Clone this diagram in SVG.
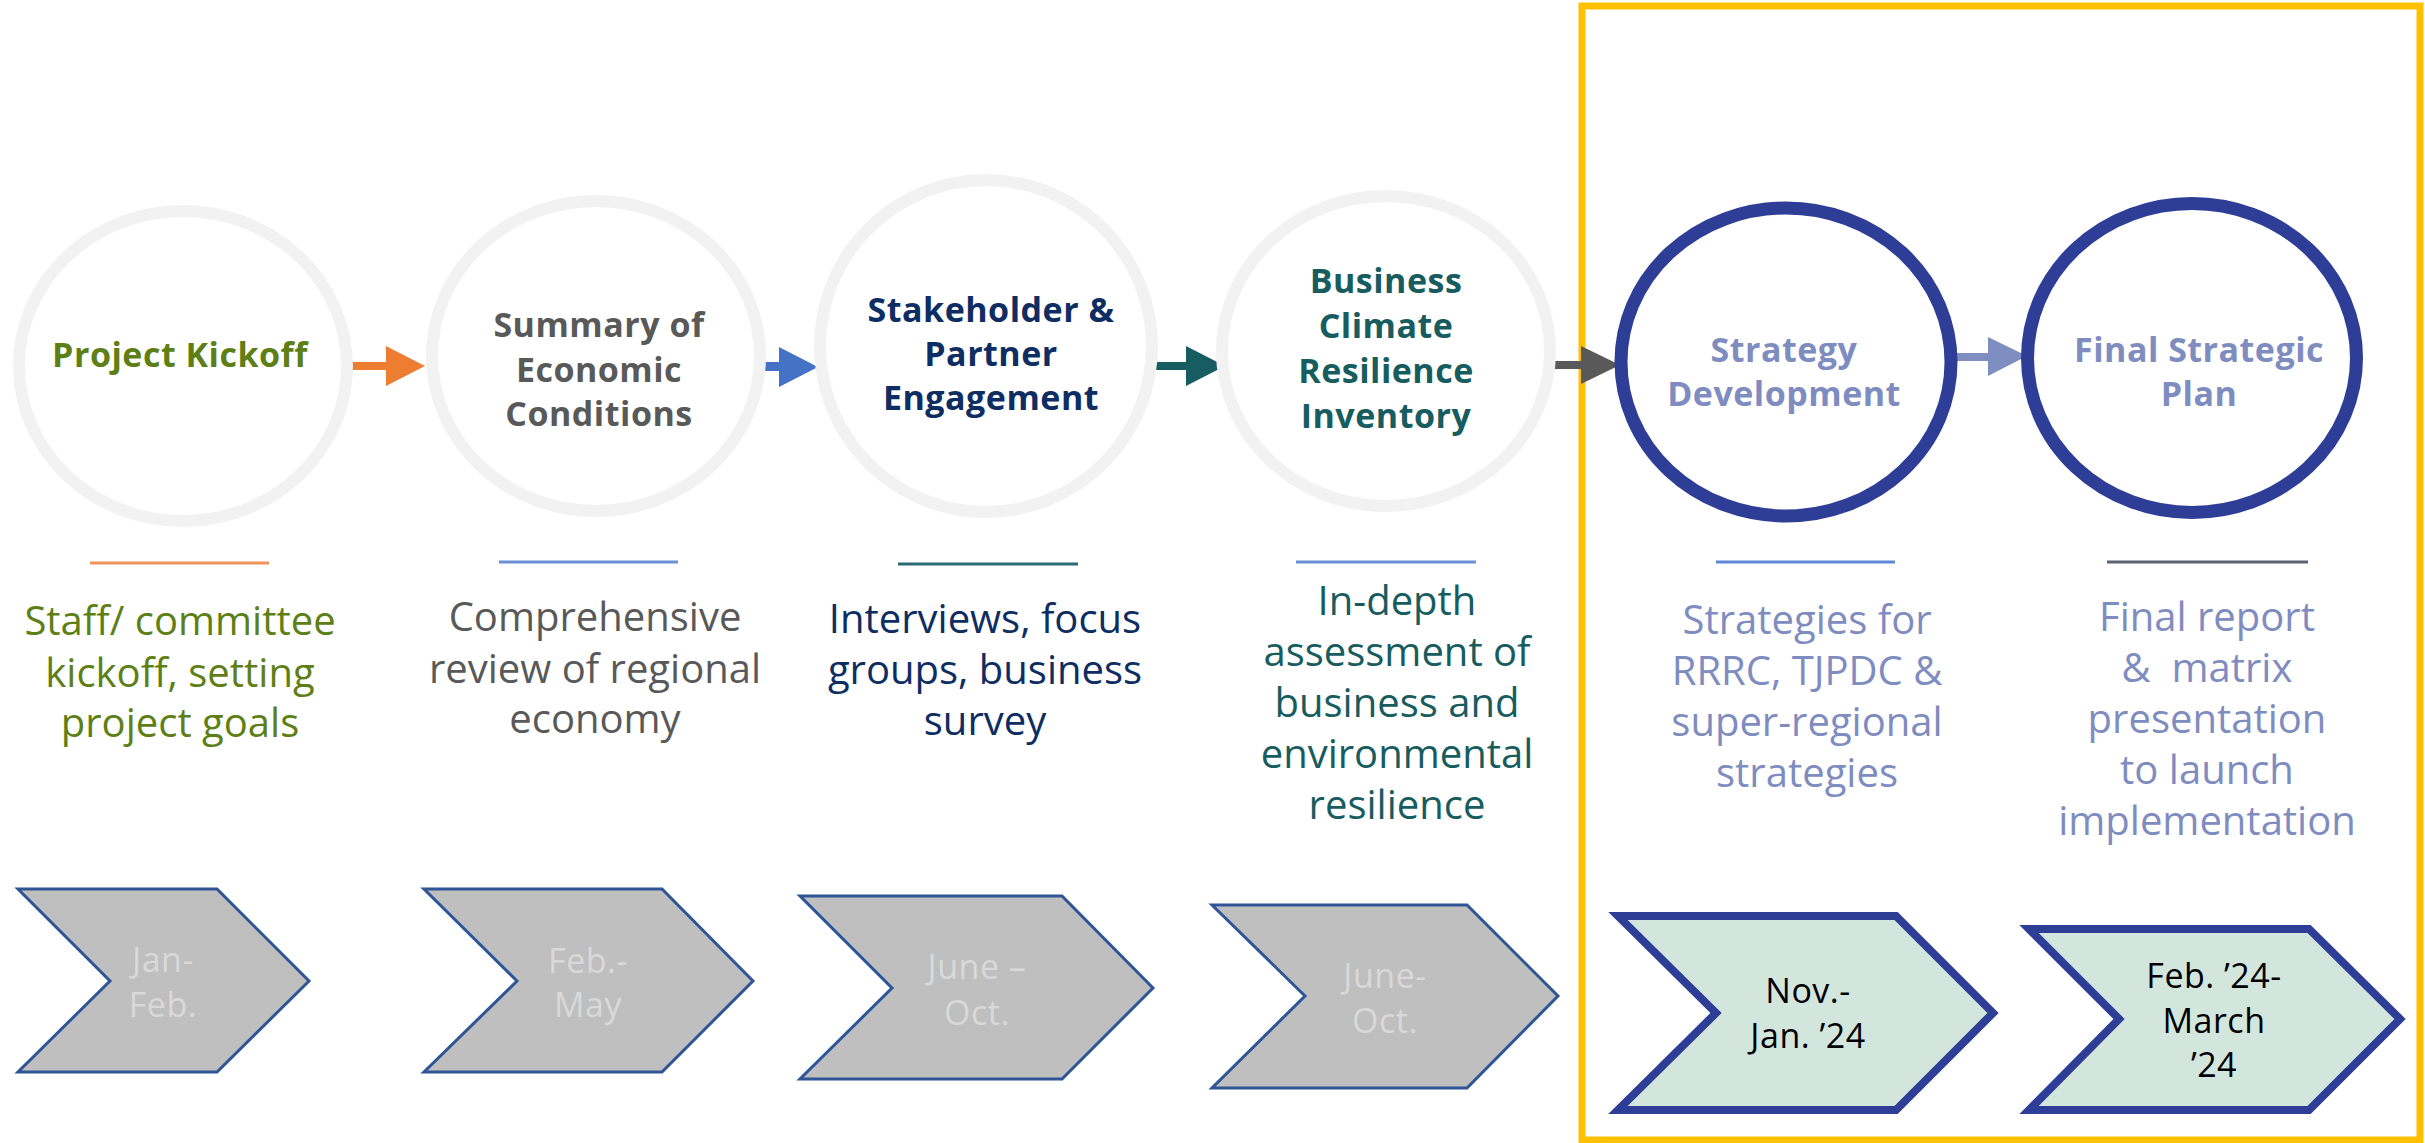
<svg xmlns="http://www.w3.org/2000/svg" width="2425" height="1143" viewBox="0 0 2425 1143">
<style>
text{font-family:"Open Sans","Noto Sans",sans-serif;text-anchor:middle}
.t{font-weight:700;font-size:34px;letter-spacing:0.5px}
.d{font-size:40px}
.c{font-size:34px;letter-spacing:0.5px}
.ring{fill:#FFFFFF;stroke:#F2F2F2;stroke-width:12}
.ringb{fill:#FFFFFF;stroke:#2E3D96;stroke-width:13}
.chev{fill:#BFBFBF;stroke:#2F5597;stroke-width:3}
.chevb{fill:#D3E6DE;stroke:#2E3D96;stroke-width:8;stroke-linejoin:miter}
.ul{stroke-width:3}
.green{fill:#5E7F16}.grey{fill:#595959}.navy{fill:#0E2D62}.teal{fill:#175C5E}.lav{fill:#7F8CC0}.pale{fill:#D9D9D9}.blk{fill:#000000}
</style>
<rect id="highlight" x="1582" y="6" width="838" height="1134" fill="none" stroke="#FFC000" stroke-width="7"/>
<g id="connectors">
<polygon points="348,362 386,362 386,346 425,366 386,386 386,370 348,370" fill="#ED7D31"/>
<polygon points="759,362 779,362 779,347 818,367 779,387 779,371 759,371" fill="#4472C4"/>
<polygon points="1148,362 1186,362 1186,346 1225,366 1186,386 1186,370 1148,370" fill="#175C60"/>
<polygon points="1545,361 1581,361 1581,346 1620,365 1581,384 1581,369 1545,369" fill="#595959"/>
<polygon points="1951,353 1988,353 1988,337 2027,356 1988,376 1988,361 1951,361" fill="#7F8EC0"/>
</g>
<g id="node-kickoff">
<ellipse class="ring" cx="183" cy="366" rx="164" ry="155"/>
<text class="t green" x="180" y="367">Project Kickoff</text>
<line class="ul" x1="90" y1="563" x2="269" y2="563" stroke="#F0945A"/>
<text class="d green" x="180" y="635">Staff/ committee</text>
<text class="d green" x="180" y="687">kickoff, setting</text>
<text class="d green" x="180" y="737">project goals</text>
<polygon class="chev" points="18,889 217,889 309,981 217,1072 18,1072 110,981"/>
<text class="c pale" x="163" y="972">Jan-</text>
<text class="c pale" x="163" y="1017">Feb.</text>
</g>
<g id="node-summary">
<ellipse class="ring" cx="596" cy="356" rx="164" ry="155"/>
<text class="t grey" x="599" y="337">Summary of</text>
<text class="t grey" x="599" y="382">Economic</text>
<text class="t grey" x="599" y="426">Conditions</text>
<line class="ul" x1="499" y1="562" x2="678" y2="562" stroke="#6A8FD6"/>
<text class="d grey" x="595" y="631">Comprehensive</text>
<text class="d grey" x="595" y="683">review of regional</text>
<text class="d grey" x="595" y="733">economy</text>
<polygon class="chev" points="424,889 662,889 753,981 662,1072 424,1072 517,981"/>
<text class="c pale" x="588" y="973">Feb.-</text>
<text class="c pale" x="588" y="1017">May</text>
</g>
<g id="node-stakeholder">
<ellipse class="ring" cx="986" cy="346" rx="166" ry="166"/>
<text class="t navy" x="991" y="322">Stakeholder &amp;</text>
<text class="t navy" x="991" y="366">Partner</text>
<text class="t navy" x="991" y="410">Engagement</text>
<line class="ul" x1="898" y1="564" x2="1078" y2="564" stroke="#2A6B74"/>
<text class="d navy" x="985" y="633">Interviews, focus</text>
<text class="d navy" x="985" y="684">groups, business</text>
<text class="d navy" x="985" y="735">survey</text>
<polygon class="chev" points="800,896 1062,896 1153,988 1062,1079 800,1079 892,988"/>
<text class="c pale" x="977" y="979">June –</text>
<text class="c pale" x="977" y="1025">Oct.</text>
</g>
<g id="node-business">
<ellipse class="ring" cx="1386" cy="351" rx="164" ry="155"/>
<text class="t teal" x="1386" y="293">Business</text>
<text class="t teal" x="1386" y="338">Climate</text>
<text class="t teal" x="1386" y="383">Resilience</text>
<text class="t teal" x="1386" y="428">Inventory</text>
<line class="ul" x1="1296" y1="562" x2="1476" y2="562" stroke="#6A8FD6"/>
<text class="d teal" x="1397" y="615">In-depth</text>
<text class="d teal" x="1397" y="666">assessment of</text>
<text class="d teal" x="1397" y="717">business and</text>
<text class="d teal" x="1397" y="768">environmental</text>
<text class="d teal" x="1397" y="819">resilience</text>
<polygon class="chev" points="1212,905 1467,905 1558,996 1467,1088 1212,1088 1305,996"/>
<text class="c pale" x="1385" y="988">June-</text>
<text class="c pale" x="1385" y="1033">Oct.</text>
</g>
<g id="node-strategy">
<ellipse class="ringb" cx="1786" cy="362" rx="165" ry="154"/>
<text class="t lav" x="1784" y="362">Strategy</text>
<text class="t lav" x="1784" y="406">Development</text>
<line class="ul" x1="1716" y1="562" x2="1895" y2="562" stroke="#5E88D4"/>
<text class="d lav" x="1807" y="634">Strategies for</text>
<text class="d lav" x="1807" y="685">RRRC, TJPDC &amp;</text>
<text class="d lav" x="1807" y="736">super-regional</text>
<text class="d lav" x="1807" y="787">strategies</text>
<polygon class="chevb" points="1618,916 1896,916 1993,1013 1896,1110 1618,1110 1716,1013"/>
<text class="c blk" x="1808" y="1003">Nov.-</text>
<text class="c blk" x="1808" y="1048">Jan. ’24</text>
</g>
<g id="node-final">
<ellipse class="ringb" cx="2192" cy="358" rx="164.5" ry="154.5"/>
<text class="t lav" x="2199" y="362">Final Strategic</text>
<text class="t lav" x="2199" y="406">Plan</text>
<line class="ul" x1="2107" y1="562" x2="2308" y2="562" stroke="#5A6470"/>
<text class="d lav" x="2207" y="631">Final report</text>
<text class="d lav" x="2207" y="682" xml:space="preserve">&amp;  matrix</text>
<text class="d lav" x="2207" y="733">presentation</text>
<text class="d lav" x="2207" y="784">to launch</text>
<text class="d lav" x="2207" y="835">implementation</text>
<polygon class="chevb" points="2029,929 2309,929 2400,1019 2309,1110 2029,1110 2119,1019"/>
<text class="c blk" x="2214" y="988">Feb. ’24-</text>
<text class="c blk" x="2214" y="1033">March</text>
<text class="c blk" x="2214" y="1077">’24</text>
</g>
</svg>
